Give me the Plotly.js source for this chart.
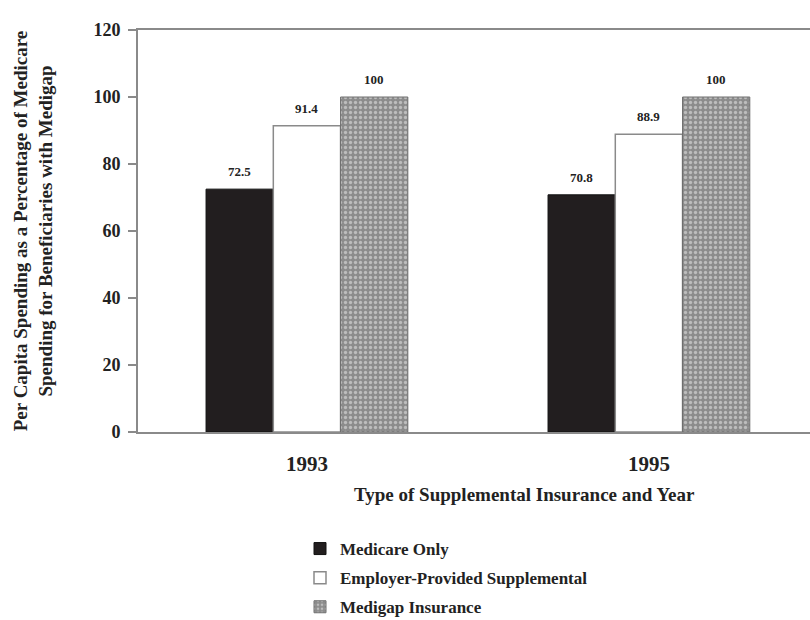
<!DOCTYPE html>
<html>
<head>
<meta charset="utf-8">
<script src="https://cdn.plot.ly/plotly-3.0.1.min.js"></script>
<style>html,body{margin:0;padding:0;background:#fff;}#chart{width:810px;height:620px;}</style>
</head>
<body>
<div id="chart"></div>
<script>
const years = ['1993', '1995'];
const seriesNames = ['Medicare Only', 'Employer-Provided Supplemental', 'Medigap Insurance'];
const medicareOnly = [72.5, 70.8];
const employerProvided = [91.4, 88.9];
const medigap = [100, 100];
const valueLabels = [['72.5', '70.8'], ['91.4', '88.9'], ['100', '100']];

const serif = 'Liberation Serif, Times New Roman, serif';
const xIdx = years.map((_, i) => i);
const allValues = [medicareOnly, employerProvided, medigap];
const BARGAP = 0.41;
const barW = (1 - BARGAP) / 3;

const styles = [
  {color: '#221e1f', line: {color: '#111', width: 1}},
  {color: '#ffffff', line: {color: '#8a8a8a', width: 1.5}},
  {color: '#8f8f8f', line: {color: '#6e6e6e', width: 1},
   pattern: {shape: '.', bgcolor: '#8c8c8c', fgcolor: '#bdbdbd', size: 5, solidity: 0.35}}
];

const traces = allValues.map((vals, k) => ({
  type: 'bar',
  name: seriesNames[k],
  x: xIdx,
  y: vals,
  legendgroup: 'g' + k,
  marker: styles[k],
  hoverinfo: 'skip'
}));

// plot box in pixels
const L = 138, R = 810, T = 30, B = 432;
const px2x = p => (p - L) / (R - L);
const px2y = p => (B - p) / (B - T);

const annotations = [];
allValues.forEach((vals, k) => {
  vals.forEach((v, i) => {
    annotations.push({
      x: i + (k - 1) * barW, y: v, xref: 'x', yref: 'y',
      text: valueLabels[k][i], showarrow: false, yanchor: 'bottom', yshift: 8,
      font: {family: serif, size: 13, color: '#222', weight: 'bold'}
    });
  });
});
annotations.push({
  x: px2x(524), xref: 'paper', y: px2y(494), yref: 'paper',
  xanchor: 'center', yanchor: 'middle',
  text: 'Type of Supplemental Insurance and Year', showarrow: false,
  font: {family: serif, size: 19, color: '#222', weight: 'bold'}
});

const layout = {
  width: 810, height: 620,
  margin: {l: L, r: 810 - R, t: T, b: 620 - B, autoexpand: false},
  paper_bgcolor: '#fff', plot_bgcolor: '#fff',
  barmode: 'group', bargap: BARGAP, bargroupgap: 0,
  font: {family: serif, color: '#222'},
  xaxis: {
    range: [-0.494, 1.471],
    tickvals: xIdx, ticktext: years,
    tickfont: {family: serif, size: 21, color: '#222', weight: 'bold'},
    showline: true, linecolor: '#8a8a8a', linewidth: 2, mirror: true,
    showgrid: false, zeroline: false, ticks: '', ticklabelstandoff: 12
  },
  yaxis: {
    range: [0, 120], dtick: 20,
    tickfont: {family: serif, size: 18, color: '#222', weight: 'bold'},
    showline: true, linecolor: '#8a8a8a', linewidth: 2,
    ticks: 'outside', ticklen: 8, tickcolor: '#8a8a8a', tickwidth: 1.5,
    ticklabelstandoff: 4,
    showgrid: false, zeroline: false,
    title: {text: 'Per Capita Spending as a Percentage of Medicare<br>Spending for Beneficiaries with Medigap',
            font: {family: serif, size: 19, color: '#222', weight: 'bold'}, standoff: 36}
  },
  showlegend: true,
  legend: {
    x: px2x(300), xanchor: 'left',
    y: px2y(531), yanchor: 'top',
    orientation: 'v', tracegroupgap: 4,
    font: {family: serif, size: 17, color: '#222', weight: 'bold'},
    itemwidth: 30
  },
  annotations: annotations
};

Plotly.newPlot('chart', traces, layout, {displayModeBar: false});
</script>
</body>
</html>
